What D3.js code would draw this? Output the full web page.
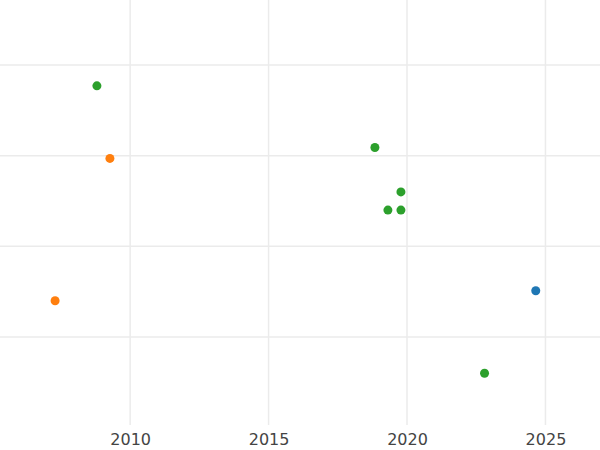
<!DOCTYPE html>
<meta charset="utf-8">
<style>
body { margin: 0; background: #fff; }
.grid line { stroke: #ebebeb; stroke-width: 1.5; }
.x.axis text { font-family: "DejaVu Sans"; font-size: 16px; fill: #444; }
</style>
<body>
<div id="chart"></div>
<script src="https://d3js.org/d3.v7.min.js"></script>
<script>
// point data
var years  = [2008.8, 2009.27, 2018.84, 2019.78, 2019.31, 2019.78, 2007.29, 2024.65, 2022.8];
var values = [2.77, 1.97, 2.09, 1.60, 1.40, 1.40, 0.40, 0.51, -0.40];
var groups = ["g", "o", "g", "g", "g", "g", "o", "b", "g"];
var xTicks = [2010, 2015, 2020, 2025];
var yGrid  = [0, 1, 2, 3];
var colors = {b: "#1f77b4", o: "#ff7f0e", g: "#2ca02c"};

var width = 600, height = 450, plotBottom = 425;

var xScale = d3.scaleLinear().domain([2005.3, 2026.97]).range([0, width]);
var yScale = d3.scaleLinear().domain([0, 3]).range([337, 65]);

var svg = d3.select("#chart").append("svg")
    .attr("width", width).attr("height", height);

var grid = svg.append("g").attr("class", "grid");
grid.selectAll(".h").data(yGrid).enter().append("line")
    .attr("x1", 0).attr("x2", width)
    .attr("y1", d => yScale(d)).attr("y2", d => yScale(d));
grid.selectAll(".v").data(xTicks).enter().append("line")
    .attr("y1", 0).attr("y2", plotBottom)
    .attr("x1", d => xScale(d)).attr("x2", d => xScale(d));

var xAxis = svg.append("g")
    .attr("class", "x axis")
    .attr("transform", "translate(0," + plotBottom + ")")
    .call(d3.axisBottom(xScale).tickValues(xTicks).tickFormat(d3.format("d")).tickSize(0).tickPadding(9));
xAxis.select(".domain").remove();

svg.selectAll(".dot")
    .data(years)
  .enter().append("circle")
    .attr("cx", d => xScale(d))
    .attr("cy", (d, i) => yScale(values[i]))
    .attr("r", 4.5)
    .attr("fill", (d, i) => colors[groups[i]]);
</script>
</body>
